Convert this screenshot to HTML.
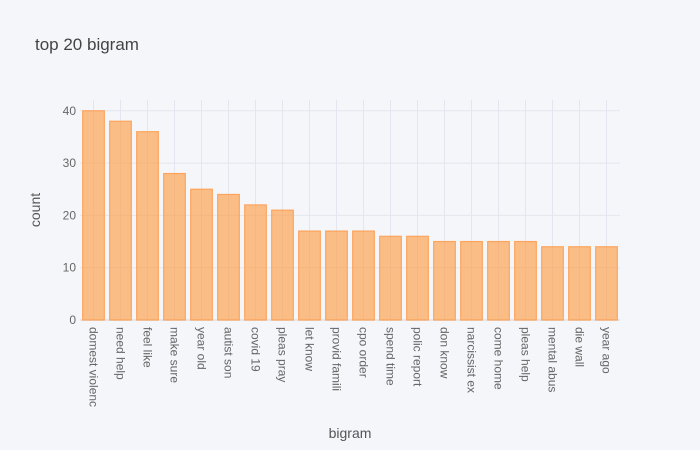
<!DOCTYPE html>
<html><head><meta charset="utf-8"><style>
body{margin:0;background:#f5f6fa;}
svg{display:block;font-family:"Liberation Sans",sans-serif;}
</style></head><body>
<svg id="chart" width="700" height="450" viewBox="0 0 700 450">
<rect width="700" height="450" fill="#f5f6fa"/>
<text x="35" y="50" font-size="17" fill="#444">top 20 bigram</text>
<g id="grid"></g><g id="bars"></g><g id="yt"></g><g id="xt"></g>
<text x="350" y="438" font-size="14" fill="#555" text-anchor="middle">bigram</text>
<text transform="translate(40,210) rotate(-90)" font-size="14" fill="#555" text-anchor="middle">count</text>
</svg>
<script>
const categories=["domest violenc","need help","feel like","make sure","year old","autist son","covid 19","pleas pray","let know","provid famili","cpo order","spend time","polic report","don know","narcissist ex","come home","pleas help","mental abus","die wall","year ago"];
const counts=[40,38,36,28,25,24,22,21,17,17,17,16,16,15,15,15,15,14,14,14];
const yTicks=[0,10,20,30,40];
const L=80,R=620,T=100,B=320,yMax=42.06;
const NS="http://www.w3.org/2000/svg";
const band=(R-L)/categories.length;
const x=i=>L+band*(i+0.5);
const y=v=>B-(v/yMax)*(B-T);
function mk(t,a,p){const e=document.createElementNS(NS,t);for(const k in a)e.setAttribute(k,a[k]);p.appendChild(e);return e;}
const grid=document.getElementById('grid'),bars=document.getElementById('bars'),yt=document.getElementById('yt'),xt=document.getElementById('xt');
yTicks.forEach(v=>{
 const g=mk('line',{x1:L,x2:R,y1:y(v),y2:y(v),stroke:'#e3e6ee','stroke-width':v===0?2:1},grid);
 
 
 const t=mk('text',{x:L-4,y:y(v)+4,'text-anchor':'end','font-size':12,fill:'#666'},yt);
 t.textContent=v;
 
 
});
categories.forEach((c,i)=>{
 const g=mk('line',{x1:x(i),x2:x(i),y1:T,y2:B,stroke:'#e3e6ee','stroke-width':1},grid);
 
 
 const w=band*0.8;
 const r=mk('rect',{x:x(i)-w/2,y:y(counts[i]),width:w,height:B-y(counts[i]),fill:'rgba(255,152,56,0.6)',stroke:'#fca45c','stroke-width':1.2},bars);
 
 
 const t=mk('text',{transform:`translate(${x(i)-4},327) rotate(90)`,'font-size':12,fill:'#666'},xt);
 t.textContent=c;
 
 
});
</script>
</body></html>
